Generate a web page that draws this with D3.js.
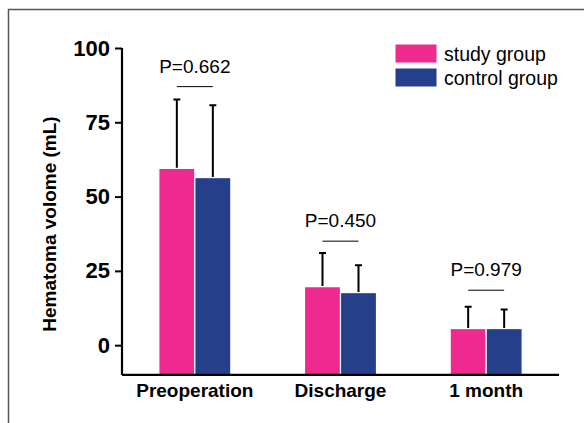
<!DOCTYPE html>
<html>
<head>
<meta charset="utf-8">
<script src="https://cdn.jsdelivr.net/npm/d3@7"></script>
<style>
  body { margin: 0; background: #fff; }
  svg { display: block; font-family: "Liberation Sans", Arial, sans-serif; }
</style>
</head>
<body>
<svg id="chart" width="584" height="423"></svg>
<script>
// data
var categories = ["Preoperation", "Discharge", "1 month"];
var seriesNames = ["study group", "control group"];
var studyMean = [59.5, 19.7, 5.6];
var studySD = [23.2, 11.3, 7.3];
var controlMean = [56.4, 17.7, 5.6];
var controlSD = [24.3, 9.2, 6.4];
var pValues = ["P=0.662", "P=0.450", "P=0.979"];
var pLineLevel = [87, 35, 18.5];
var yTicks = [0, 25, 50, 75, 100];

var colors = ["#ee2a8e", "#253f8b"];

var svg = d3.select("#chart");

// frame around the figure
svg.append("path")
    .attr("d", "M8.5,423V9.5H584")
    .attr("fill", "none")
    .attr("stroke", "#555")
    .attr("stroke-width", 1.5);

var margin = {left: 122, right: 25, top: 48, bottom: 49};
var width = 584 - margin.left - margin.right,
    height = 423 - margin.top - margin.bottom;

var g = svg.append("g")
    .attr("transform", "translate(" + margin.left + "," + margin.top + ")");

var x = d3.scaleBand().domain(categories).range([0, width]).padding(0);
var y = d3.scaleLinear().domain([-10, 100]).range([height + 0.9, 0]);
var xs = d3.scaleBand().domain(seriesNames).range([-36, 36]);

var rows = categories.map(function (c, i) {
  return {cat: c, vals: [
    {s: seriesNames[0], m: studyMean[i], sd: studySD[i], c: colors[0]},
    {s: seriesNames[1], m: controlMean[i], sd: controlSD[i], c: colors[1]}
  ]};
});

var grp = g.selectAll(".grp").data(rows).enter().append("g")
    .attr("class", "grp")
    .attr("transform", function (d) { return "translate(" + (x(d.cat) + x.bandwidth() / 2) + ",0)"; });

// error bars (upper only)
grp.selectAll(".err").data(function (d) { return d.vals; }).enter().append("path")
    .attr("class", "err")
    .attr("d", function (d) {
      var cx = xs(d.s) + xs.bandwidth() / 2;
      return "M" + cx + "," + y(d.m) + "V" + y(d.m + d.sd) + "M" + (cx - 3.5) + "," + y(d.m + d.sd) + "H" + (cx + 3.5);
    })
    .attr("stroke", "#000")
    .attr("stroke-width", 2)
    .attr("fill", "none");

grp.selectAll(".bar").data(function (d) { return d.vals; }).enter().append("rect")
    .attr("class", "bar")
    .attr("x", function (d) { return xs(d.s); })
    .attr("width", xs.bandwidth())
    .attr("y", function (d) { return y(d.m); })
    .attr("height", function (d) { return y(-10) - y(d.m); })
    .attr("fill", function (d) { return d.c; })
    .attr("stroke", "#fff")
    .attr("stroke-width", 1.2);

// p-value lines and labels
grp.append("line")
    .attr("x1", -18).attr("x2", 18)
    .attr("y1", function (d, i) { return y(pLineLevel[i]); })
    .attr("y2", function (d, i) { return y(pLineLevel[i]); })
    .attr("stroke", "#000")
    .attr("stroke-width", 1);

grp.append("text")
    .attr("x", 0)
    .attr("y", function (d, i) { return y(pLineLevel[i]) - 14; })
    .attr("text-anchor", "middle")
    .style("font-size", "19px")
    .text(function (d, i) { return pValues[i]; });

// axes
var yAxis = g.append("g")
    .call(d3.axisLeft(y).tickValues(yTicks).tickSize(7).tickPadding(5));
yAxis.select(".domain").attr("d", "M0," + y(100) + "V" + y(-10)).attr("stroke-width", 2.2);
yAxis.selectAll(".tick line").attr("stroke-width", 2);
yAxis.selectAll("text")
    .style("font-size", "22px")
    .style("font-weight", "bold")
    .attr("fill", "#000");

var xAxis = g.append("g")
    .attr("transform", "translate(0," + y(-10) + ")")
    .call(d3.axisBottom(x).tickSize(0).tickPadding(9));
xAxis.select(".domain").attr("stroke-width", 2.2).attr("d", "M0,0H" + width);
xAxis.selectAll("text")
    .style("font-size", "19px")
    .style("font-weight", "bold")
    .attr("fill", "#000");

// y axis title
svg.append("text")
    .attr("transform", "translate(56," + (margin.top + 176) + ") rotate(-90)")
    .attr("text-anchor", "middle")
    .style("font-size", "19px")
    .style("font-weight", "bold")
    .text("Hematoma volome (mL)");

// legend
var leg = svg.append("g").attr("transform", "translate(395,44)");
seriesNames.forEach(function (s, i) {
  leg.append("rect")
      .attr("x", 0).attr("y", i * 24)
      .attr("width", 42).attr("height", 19)
      .attr("fill", colors[i])
      .attr("stroke", "#fff").attr("stroke-width", 1);
  leg.append("text")
      .attr("x", 49).attr("y", i * 24 + 16.5)
      .style("font-size", "19.5px")
      .text(s);
});
</script>
</body>
</html>
